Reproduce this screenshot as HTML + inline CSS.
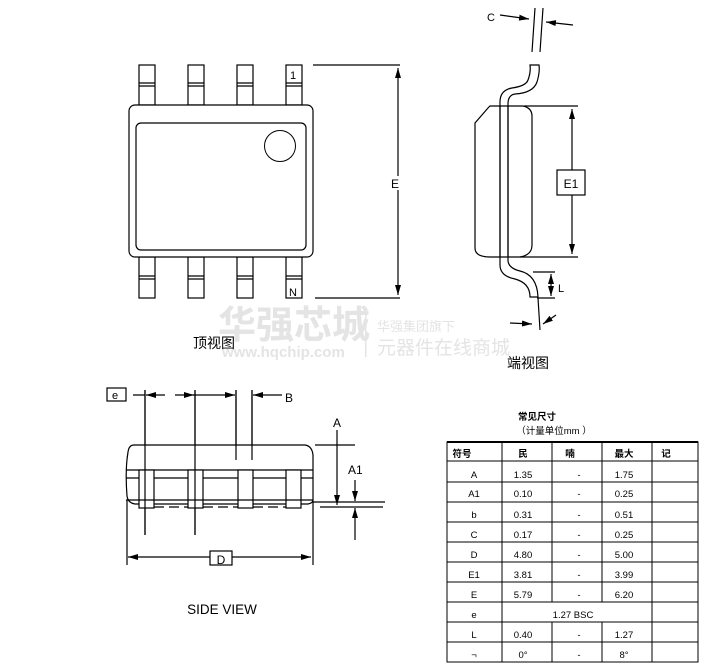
<!DOCTYPE html>
<html><head><meta charset="utf-8"><style>
html,body{margin:0;padding:0;background:#fff;}
svg{display:block;}
text{font-family:"Liberation Sans","Noto Sans CJK SC",sans-serif;}
</style></head><body>
<svg width="715" height="670" viewBox="0 0 715 670" xmlns="http://www.w3.org/2000/svg">
<defs>
<marker id="ar" markerWidth="10" markerHeight="6" refX="10" refY="3" orient="auto" markerUnits="userSpaceOnUse"><path d="M0,0 L10,3 L0,6 z" fill="#000"/></marker>
</defs>
<!-- watermark -->
<g fill="#e4e4e4">
<text x="218" y="338" font-size="38" font-weight="bold" font-family="'Noto Sans CJK SC',sans-serif">华强芯城</text>
<text x="222" y="357" font-size="15" font-weight="bold">www.hqchip.com</text>
<rect x="365" y="315" width="1.5" height="42"/>
<text x="377" y="331" font-size="13" font-family="'Noto Sans CJK SC',sans-serif">华强集团旗下</text>
<text x="377" y="354" font-size="19" font-family="'Noto Sans CJK SC',sans-serif">元器件在线商城</text>
</g>
<g fill="none" stroke="#000" stroke-width="1.2">
<!-- top view leads -->
<g>
<rect x="139" y="65" width="16" height="40"/><rect x="188" y="65" width="16" height="40"/><rect x="237" y="65" width="16" height="40"/><rect x="286" y="65" width="16" height="40"/>
<path d="M139 83H155M139 86H155M188 83H204M188 86H204M237 83H253M237 86H253M286 83H302M286 86H302"/>
<rect x="139" y="257" width="16" height="41"/><rect x="188" y="257" width="16" height="41"/><rect x="237" y="257" width="16" height="41"/><rect x="286" y="257" width="16" height="41"/>
<path d="M139 276H155M139 279H155M188 276H204M188 279H204M237 276H253M237 279H253M286 276H302M286 279H302"/>
</g>
<rect x="129" y="105" width="184" height="152" rx="6" fill="#fff"/>
<rect x="136" y="123" width="170" height="127" rx="5"/>
<circle cx="280" cy="146" r="15.5" stroke-width="1"/>
<path d="M313 65H400M315 298H400"/>
<path d="M398 180V68" marker-end="url(#ar)"/>
<path d="M398 190V295" marker-end="url(#ar)"/>
<!-- end view -->
<path d="M500 15L529 19" marker-end="url(#ar)"/>
<path d="M573 25L546 22" marker-end="url(#ar)"/>
<path d="M532 52L535 8M540 52L543 8"/>
<path d="M530 65H539Q540 72 537 82Q533 93 515 94Q508 95 508 104V260Q508 268 520 271Q537 275 538 297H530Q530 283 515 279Q500 276 500 265V102Q500 90 512 88Q526 86 528 80Q531 72 530 65Z" fill="#fff"/>
<path d="M490 106H523Q532 108 532 116V245Q532 255 520 257H490Q475 257 475 248V123L488 108Z" fill="none"/>
<path d="M500 106V257M508 106V257"/>
<path d="M524 106H578M520 257H578"/>
<path d="M572 170V109" marker-end="url(#ar)"/>
<path d="M572 195V254" marker-end="url(#ar)"/>
<rect x="557" y="170" width="28" height="25" fill="#fff"/>
<path d="M533 272H555M537 298H555"/>
<path d="M551 285V274" marker-end="url(#ar)"/>
<path d="M551 285V296" marker-end="url(#ar)"/>
<path d="M538 298L540 330"/>
<path d="M510 323L532 324" marker-end="url(#ar)"/>
<path d="M556 315L543 324" marker-end="url(#ar)"/>
<!-- side view -->
<rect x="107" y="388" width="19" height="13"/>
<path d="M133 395H145M193 395H200M145 390V535M195 390V535M236 390V460M252 390V460"/>
<path d="M165 395H146" marker-end="url(#ar)"/>
<path d="M175 395H194" marker-end="url(#ar)"/>
<path d="M200 395H235" marker-end="url(#ar)"/>
<path d="M282 395H253" marker-end="url(#ar)"/>
<path d="M134 445H305Q312 446 313 455V500Q313 503 308 504H135Q128 503 127 496Q125 470 128 452Q129 445 134 445Z" fill="#fff"/>
<path d="M126 470H313M126 478H313M126 500H313"/>
<rect x="139" y="470" width="15" height="38" fill="#fff"/><rect x="188" y="470" width="15" height="38" fill="#fff"/><rect x="238" y="470" width="15" height="38" fill="#fff"/><rect x="286" y="470" width="15" height="38" fill="#fff"/>
<path d="M139 500H154M188 500H203M238 500H253M286 500H301"/>
<path d="M145 390V535M195 390V535M236 390V460M252 390V460"/>
<path d="M154 507H188M203 507H238M253 507H286" stroke-dasharray="10 5"/>
<path d="M315 445H355M313 502H385M320 507H383"/>
<path d="M337 430V505" marker-end="url(#ar)"/>
<path d="M355 480V501" marker-end="url(#ar)"/>
<path d="M355 540V508" marker-end="url(#ar)"/>
<path d="M127 500V565M313 500V565"/>
<path d="M210 557H128" marker-end="url(#ar)"/>
<path d="M232 557H311" marker-end="url(#ar)"/>
<rect x="210" y="551" width="22" height="14" fill="#fff"/>
<!-- table -->
<g stroke-width="1">
<rect x="447" y="442" width="251" height="220"/>
<path d="M447 442H698" stroke-width="2"/>
<path d="M447 461H698M447 482H698M447 502H698M447 522H698M447 542H698M447 562H698M447 582H698M447 602H698M447 622H698M447 642H698"/>
<path d="M502 442V662M652 442V662"/>
<path d="M552 442V602M602 442V602M552 622V662M602 622V662"/>
</g>
</g>
<g font-size="11" fill="#000">
<text x="293" y="79" text-anchor="middle" font-size="11">1</text>
<text x="293" y="296" text-anchor="middle" font-size="11">N</text>
<rect x="391" y="176" width="10" height="14" fill="#fff"/>
<text x="395" y="188" text-anchor="middle" font-size="12">E</text>
<text x="193" y="348" font-size="14" font-family="'Noto Sans CJK SC',sans-serif">顶视图</text>
<text x="491" y="21" text-anchor="middle" font-size="11">C</text>
<text x="571" y="188" text-anchor="middle" font-size="12">E1</text>
<text x="558" y="292" font-size="11">L</text>
<text x="507" y="368" font-size="14" font-family="'Noto Sans CJK SC',sans-serif">端视图</text>
<text x="112" y="399" font-size="11">e</text>
<text x="285" y="402" font-size="12">B</text>
<text x="333" y="427" font-size="12">A</text>
<text x="348" y="474" font-size="12">A1</text>
<text x="221" y="564" text-anchor="middle" font-size="12">D</text>
<text x="222" y="614" text-anchor="middle" font-size="13.5">SIDE VIEW</text>
</g>
<g font-size="9.5" fill="#000" text-anchor="middle">
<text x="537" y="420" font-weight="bold" font-family="'Noto Sans CJK SC',sans-serif">常见尺寸</text>
<text x="554" y="434" font-family="'Noto Sans CJK SC',sans-serif">（计量单位mm ）</text>
<g font-weight="bold" font-family="'Noto Sans CJK SC',sans-serif">
<text x="462" y="457">符号</text><text x="523" y="457">民</text><text x="570" y="457">喃</text><text x="624" y="457">最大</text><text x="666" y="457">记</text>
</g>
<text x="474" y="478">A</text><text x="523" y="478">1.35</text><text x="579" y="478">-</text><text x="624" y="478">1.75</text>
<text x="474" y="497">A1</text><text x="523" y="497">0.10</text><text x="579" y="497">-</text><text x="624" y="497">0.25</text>
<text x="474" y="518">b</text><text x="523" y="518">0.31</text><text x="579" y="518">-</text><text x="624" y="518">0.51</text>
<text x="474" y="538">C</text><text x="523" y="538">0.17</text><text x="579" y="538">-</text><text x="624" y="538">0.25</text>
<text x="474" y="558">D</text><text x="523" y="558">4.80</text><text x="579" y="558">-</text><text x="624" y="558">5.00</text>
<text x="474" y="578">E1</text><text x="523" y="578">3.81</text><text x="579" y="578">-</text><text x="624" y="578">3.99</text>
<text x="474" y="598">E</text><text x="523" y="598">5.79</text><text x="579" y="598">-</text><text x="624" y="598">6.20</text>
<text x="474" y="618">e</text><text x="573" y="618">1.27 BSC</text>
<text x="474" y="638">L</text><text x="523" y="638">0.40</text><text x="579" y="638">-</text><text x="624" y="638">1.27</text>
<text x="474" y="658">¬</text><text x="523" y="658">0°</text><text x="579" y="658">-</text><text x="624" y="658">8°</text>
</g>
</svg>
</body></html>
